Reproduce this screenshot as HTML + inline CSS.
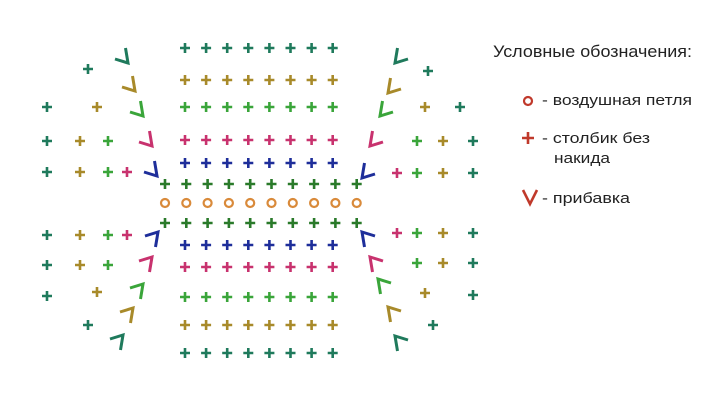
<!DOCTYPE html>
<html><head><meta charset="utf-8"><style>
body{margin:0;background:#fff;width:720px;height:409px;overflow:hidden}
svg{display:block}
text{font-family:"Liberation Sans",sans-serif;fill:#222}
</style></head><body>
<svg id="s" width="720" height="409" xmlns="http://www.w3.org/2000/svg">
<text x="493" y="57" font-size="17" textLength="199" lengthAdjust="spacingAndGlyphs">Условные обозначения:</text>
<circle cx="528" cy="101" r="4" fill="none" stroke="#c0392b" stroke-width="2.2"/>
<text x="542" y="105" font-size="15" textLength="150" lengthAdjust="spacingAndGlyphs">- воздушная петля</text>
<path d="M522 138h12M528 132v12" stroke="#c0392b" stroke-width="2.6"/>
<text x="542" y="143" font-size="15" textLength="108" lengthAdjust="spacingAndGlyphs">- столбик без</text>
<text x="554" y="163" font-size="15" textLength="56" lengthAdjust="spacingAndGlyphs">накида</text>
<polyline points="523,190 530,204 537,190" fill="none" stroke="#c0392b" stroke-width="2.6"/>
<text x="542" y="203" font-size="15" textLength="88" lengthAdjust="spacingAndGlyphs">- прибавка</text>
<g id="g"></g>
</svg>
<script>
var g=document.getElementById('g'),NS='http://www.w3.org/2000/svg';
var C={t:'#1f7a5c',o:'#a88a2a',g:'#3aa53a',m:'#c8326e',b:'#1e2e9a',d:'#2a7a2a',r:'#d98a3a'};
function el(n,a){var e=document.createElementNS(NS,n);for(var k in a)e.setAttribute(k,a[k]);g.appendChild(e);}
function P(x,y,c){el('path',{d:'M'+(x-5)+' '+y+'h10M'+x+' '+(y-5)+'v10',stroke:C[c],'stroke-width':2.6});}
function V(x,y,c,sx,sy){var p=[[2.5*sx,-9*sy],[5*sx,6*sy],[-8*sx,2*sy]].map(function(q){return (x+q[0])+','+(y+q[1])}).join(' ');
 el('polyline',{points:p,fill:'none',stroke:C[c],'stroke-width':3,'stroke-linejoin':'miter'});}
var rows=[[48,'t'],[80,'o'],[107,'g'],[140,'m'],[163,'b'],[245,'b'],[267,'m'],[297,'g'],[325,'o'],[353,'t']];
rows.forEach(function(r){for(var i=0;i<8;i++){P(185+i*21.1,r[0],r[1]);}});
for(var i=0;i<10;i++){var x=165+i*21.3;P(x,184,'d');P(x,223,'d');el('circle',{cx:x,cy:203,r:4,fill:'none',stroke:C.r,'stroke-width':2.2});}
[[88,69,'t'],[47,107,'t'],[97,107,'o'],[47,141,'t'],[80,141,'o'],[108,141,'g'],[47,172,'t'],[80,172,'o'],[108,172,'g'],[127,172,'m'],
 [47,235,'t'],[80,235,'o'],[108,235,'g'],[127,235,'m'],[47,265,'t'],[80,265,'o'],[108,265,'g'],[47,296,'t'],[97,292,'o'],[88,325,'t'],
 [428,71,'t'],[425,107,'o'],[460,107,'t'],[417,141,'g'],[443,141,'o'],[473,141,'t'],[397,173,'m'],[417,173,'g'],[443,173,'o'],[473,173,'t'],
 [397,233,'m'],[417,233,'g'],[443,233,'o'],[473,233,'t'],[417,263,'g'],[443,263,'o'],[473,263,'t'],[425,293,'o'],[473,295,'t'],[433,325,'t']
].forEach(function(a){P(a[0],a[1],a[2]);});
[[123,57,'t'],[130,85,'o'],[138,110,'g'],[147,140,'m'],[152,170,'b']].forEach(function(a){V(a[0],a[1],a[2],1,1);});
[[153,238,'b'],[147,263,'m'],[138,290,'g'],[128,314,'o'],[118,341,'t']].forEach(function(a){V(a[0],a[1],a[2],1,-1);});
[[400,57,'t'],[393,87,'o'],[385,110,'g'],[375,140,'m'],[367,172,'b']].forEach(function(a){V(a[0],a[1],a[2],-1,1);});
[[367,238,'b'],[375,263,'m'],[383,285,'g'],[393,313,'o'],[400,342,'t']].forEach(function(a){V(a[0],a[1],a[2],-1,-1);});
</script>
</body></html>
